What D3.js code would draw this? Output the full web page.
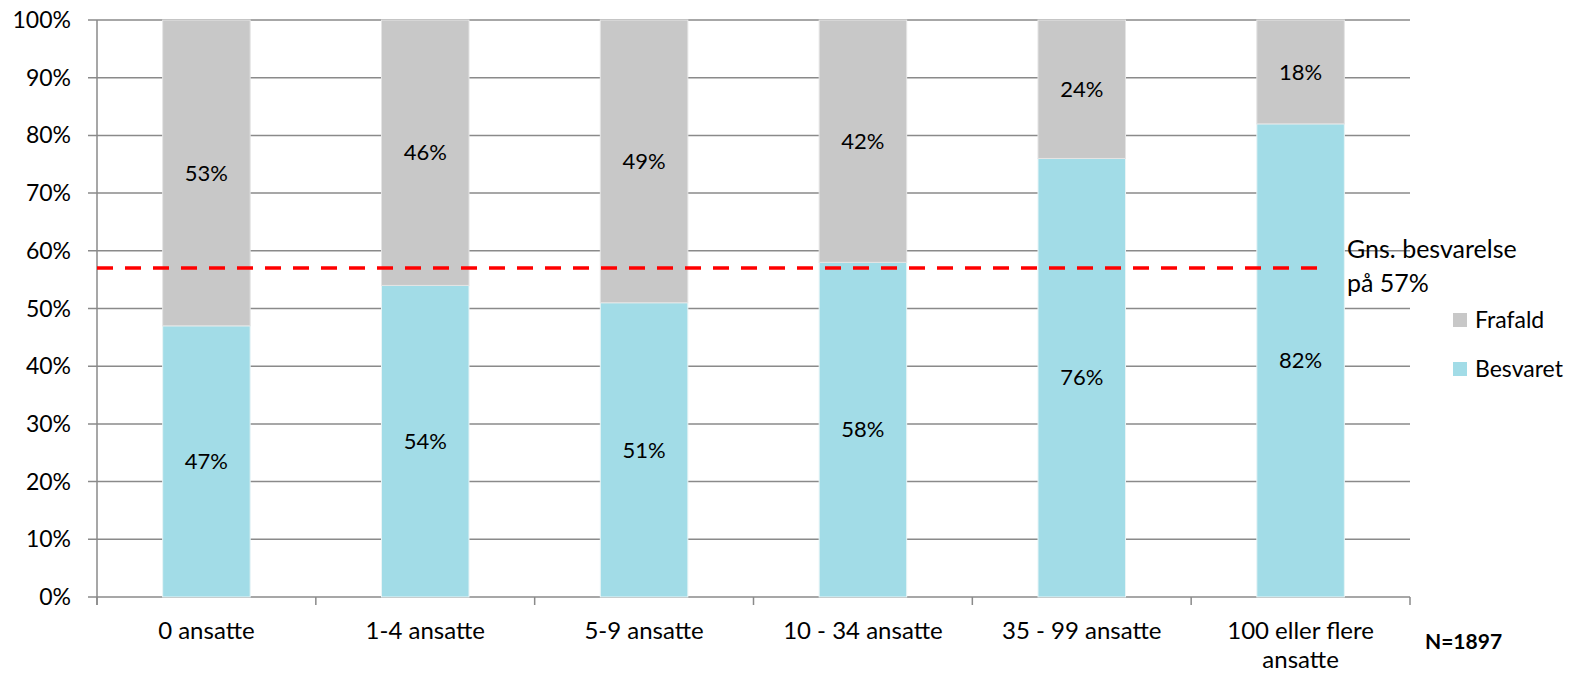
<!DOCTYPE html>
<html><head><meta charset="utf-8">
<script src="https://cdn.jsdelivr.net/npm/d3@7"></script>
<style>body{margin:0;background:#fff;} svg{display:block;font-family:Lato,"Open Sans",sans-serif;}</style>
</head><body>
<svg id="c" width="1573" height="674"></svg>
<script>
const categories = [["0 ansatte"],["1-4 ansatte"],["5-9 ansatte"],["10 - 34 ansatte"],["35 - 99 ansatte"],["100 eller flere","ansatte"]];
const besvaret = [47, 54, 51, 58, 76, 82];
const frafald = [53, 46, 49, 42, 24, 18];
const average = 57;
const yTicks = [0,10,20,30,40,50,60,70,80,90,100];
const seriesNames = ["Frafald","Besvaret"];
const colors = {Besvaret:"#a2dce7", Frafald:"#c8c8c8"};

const svg = d3.select("#c");
const L=97, R=1410, T=20, B=597;
const x = d3.scaleBand().domain(categories.map((d,i)=>i)).range([L,R]).paddingInner(0.6).paddingOuter(0.3);
const xc = d3.scaleBand().domain(categories.map((d,i)=>i)).range([L,R]);
const y = d3.scaleLinear().domain([0,100]).range([B,T]);

svg.append("g").selectAll("line").data(yTicks).join("line")
  .attr("x1",L-9).attr("x2",R).attr("y1",d=>y(d)).attr("y2",d=>y(d))
  .attr("stroke","#8a8a8a").attr("stroke-width",1.5);
svg.append("line").attr("x1",L).attr("x2",L).attr("y1",T).attr("y2",B+8).attr("stroke","#8a8a8a").attr("stroke-width",1.5);
const bounds = categories.map((d,i)=>xc(i)).concat([R]);
svg.append("g").selectAll("line").data(bounds).join("line")
  .attr("x1",d=>d).attr("x2",d=>d).attr("y1",B).attr("y2",B+8)
  .attr("stroke","#8a8a8a").attr("stroke-width",1.5);
svg.append("g").selectAll("text").data(yTicks).join("text")
  .attr("x",L-26).attr("y",d=>y(d)).attr("dy","0.35em").attr("text-anchor","end")
  .attr("font-size",23).attr("fill","#000").text(d=>d+"%");

const stack = categories.map((c,i)=>({i, b:besvaret[i], f:frafald[i]}));
const g = svg.append("g");
g.selectAll("rect.b").data(stack).join("rect")
  .attr("x",d=>x(d.i)).attr("width",x.bandwidth())
  .attr("y",d=>y(d.b)).attr("height",d=>y(0)-y(d.b))
  .attr("fill",colors.Besvaret).attr("stroke","#e8f4f6").attr("stroke-width",1);
g.selectAll("rect.f").data(stack).join("rect")
  .attr("x",d=>x(d.i)).attr("width",x.bandwidth())
  .attr("y",d=>y(d.b+d.f)).attr("height",d=>y(d.b)-y(d.b+d.f))
  .attr("fill",colors.Frafald).attr("stroke","#e4e4e4").attr("stroke-width",1);
g.selectAll("text.b").data(stack).join("text")
  .attr("x",d=>x(d.i)+x.bandwidth()/2).attr("y",d=>y(d.b/2)).attr("dy","0.35em")
  .attr("text-anchor","middle").attr("font-size",22).text(d=>d.b+"%");
g.selectAll("text.f").data(stack).join("text")
  .attr("x",d=>x(d.i)+x.bandwidth()/2).attr("y",d=>y(d.b+d.f/2)).attr("dy","0.35em")
  .attr("text-anchor","middle").attr("font-size",22).text(d=>d.f+"%");

const xl = svg.append("g").selectAll("text").data(categories).join("text")
  .attr("x",(d,i)=>xc(i)+xc.bandwidth()/2).attr("y",631)
  .attr("text-anchor","middle").attr("font-size",24);
xl.each(function(d,i){
  const t=d3.select(this);
  d.forEach((s,k)=>t.append("tspan").attr("x",xc(i)+xc.bandwidth()/2).attr("dy",k===0?"0.35em":"1.2em").text(s));
});

svg.append("line").attr("x1",L).attr("x2",1328).attr("y1",y(average)).attr("y2",y(average))
  .attr("stroke","#ff0000").attr("stroke-width",3.5).attr("stroke-dasharray","16,12");
svg.append("text").attr("x",1347).attr("y",y(average)-10).attr("font-size",25).text("Gns. besvarelse");
svg.append("text").attr("x",1347).attr("y",y(average)+24).attr("font-size",25).text("på "+average+"%");

const lg = svg.append("g");
seriesNames.forEach((n,k)=>{
  const yy = 320 + k*49;
  lg.append("rect").attr("x",1453).attr("y",yy-7).attr("width",14).attr("height",14).attr("fill",colors[n]);
  lg.append("text").attr("x",1475).attr("y",yy).attr("dy","0.35em").attr("font-size",23).text(n);
});
svg.append("text").attr("x",1425).attr("y",642).attr("dy","0.35em").attr("font-size",21).attr("font-weight","bold").text("N=1897");
</script>
</body></html>
